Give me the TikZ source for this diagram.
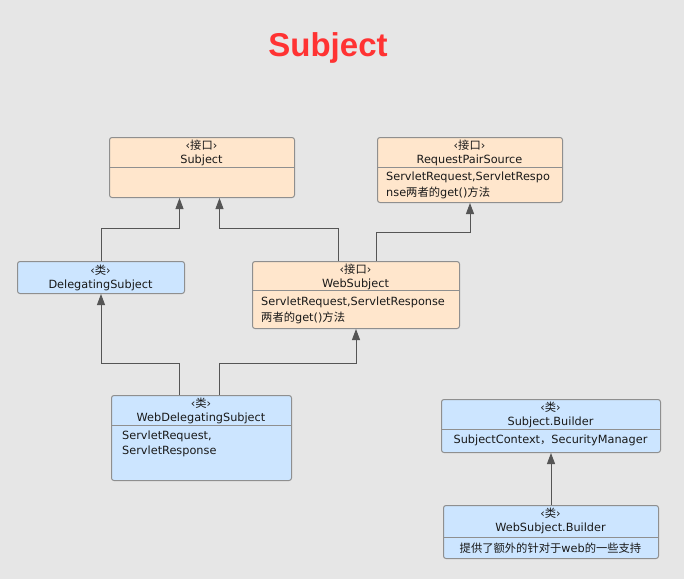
\documentclass[tikz,border=0pt]{standalone}
\usepackage{fontspec}
\setmainfont{DejaVu Sans}
\newfontfamily\cjk{Noto Sans CJK SC}
\newfontfamily\titlefont{Liberation Sans}
\usetikzlibrary{arrows.meta,calc}
\definecolor{bgc}{HTML}{E6E6E6}
\definecolor{ifc}{HTML}{FFE6CC}
\definecolor{clc}{HTML}{CCE5FF}
\definecolor{brd}{HTML}{8F8F8F}
\definecolor{lnc}{HTML}{555555}
\definecolor{ttl}{HTML}{FF3333}
\begin{document}
\begin{tikzpicture}[x=1pt,y=-1pt,
  box/.style={draw=brd,line width=1pt,rounded corners=2.5pt,inner sep=0pt,anchor=north west},
  ifbox/.style={box,fill=ifc},
  clbox/.style={box,fill=clc},
  divl/.style={draw=brd,line width=1pt},
  hd/.style={font=\fontsize{11.3}{13}\selectfont,inner sep=0pt,text=black!90},
  bd/.style={font=\fontsize{11.3}{13}\selectfont,inner sep=0pt,anchor=west,text=black!90},
  conn/.style={draw=lnc,line width=0.9pt,-{Triangle[length=11pt,width=8pt]}},
  plain/.style={draw=lnc,line width=0.9pt}]
\useasboundingbox[fill=bgc] (0,0) rectangle (684,579);
\node[font=\titlefont\bfseries\fontsize{33}{36}\selectfont,text=ttl,anchor=base] (title) at (328,56) {Subject};
% Subject
\node[ifbox,minimum width=185pt,minimum height=60pt] (sub) at (109,137) {};
\draw[divl] (109,167) -- (294,167);
\node[hd] (subh1) at (201.5,145) {‹{\cjk 接口}›};
\node[hd] (subh2) at (201.5,160) {Subject};
% RequestPairSource
\node[ifbox,minimum width=185pt,minimum height=65pt] (rps) at (377,137) {};
\draw[divl] (377,167) -- (562,167);
\node[hd] (rpsh1) at (469.5,145) {‹{\cjk 接口}›};
\node[hd] (rpsh2) at (469.5,160) {RequestPairSource};
\node[bd] (rpsb1) at (386,177) {ServletRequest,ServletRespo};
\node[bd] (rpsb2) at (386,193) {nse{\cjk 两者的}get(){\cjk 方法}};
% DelegatingSubject
\node[clbox,minimum width=167pt,minimum height=32pt] (ds) at (17,261) {};
\node[hd] (dsh1) at (100.5,270) {‹{\cjk 类}›};
\node[hd] (dsh2) at (100.5,285) {DelegatingSubject};
% WebSubject
\node[ifbox,minimum width=207pt,minimum height=67pt] (ws) at (252,261) {};
\draw[divl] (252,290) -- (459,290);
\node[hd] (wsh1) at (355.5,269) {‹{\cjk 接口}›};
\node[hd] (wsh2) at (355.5,284) {WebSubject};
\node[bd] (wsb1) at (261,302) {ServletRequest,ServletResponse};
\node[bd] (wsb2) at (261,318) {{\cjk 两者的}get(){\cjk 方法}};
% WebDelegatingSubject
\node[clbox,minimum width=180pt,minimum height=85pt] (wds) at (111,395) {};
\draw[divl] (111,425) -- (291,425);
\node[hd] (wdsh1) at (201,403) {‹{\cjk 类}›};
\node[hd] (wdsh2) at (201,418) {WebDelegatingSubject};
\node[bd] (wdsb1) at (122,436) {ServletRequest,};
\node[bd] (wdsb2) at (122,451) {ServletResponse};
% Subject.Builder
\node[clbox,minimum width=219pt,minimum height=53pt] (sb) at (441,399) {};
\draw[divl] (441,429) -- (660,429);
\node[hd] (sbh1) at (550.5,407) {‹{\cjk 类}›};
\node[hd] (sbh2) at (550.5,422) {Subject.Builder};
\node[hd] (sbb1) at (550.5,440) {SubjectContext{\cjk ，}SecurityManager};
% WebSubject.Builder
\node[clbox,minimum width=215pt,minimum height=53pt] (wsb) at (443,505) {};
\draw[divl] (443,537) -- (658,537);
\node[hd] (wsbh1) at (550.5,513) {‹{\cjk 类}›};
\node[hd] (wsbh2) at (550.5,528) {WebSubject.Builder};
\node[hd] (wsbb1) at (550.5,548) {{\cjk 提供了额外的针对于}web{\cjk 的一些支持}};
% connectors
\draw[conn] (ds.north) -- ++(0,-33) -| ([xshift=-22.5pt]sub.south);
\draw[conn] ([xshift=-17.5pt]ws.north) -- ++(0,-33) -| ([xshift=17.5pt]sub.south);
\draw[conn] ([xshift=20.5pt]ws.north) -- ++(0,-29) -| (rps.south);
\draw[conn] ([xshift=-22pt]wds.north) -- ++(0,-32) -| (ds.south);
\draw[conn] ([xshift=18pt]wds.north) -- ++(0,-32) -| (ws.south);
\draw[conn] (wsb.north) -- (sb.south);
\end{tikzpicture}
\end{document}
